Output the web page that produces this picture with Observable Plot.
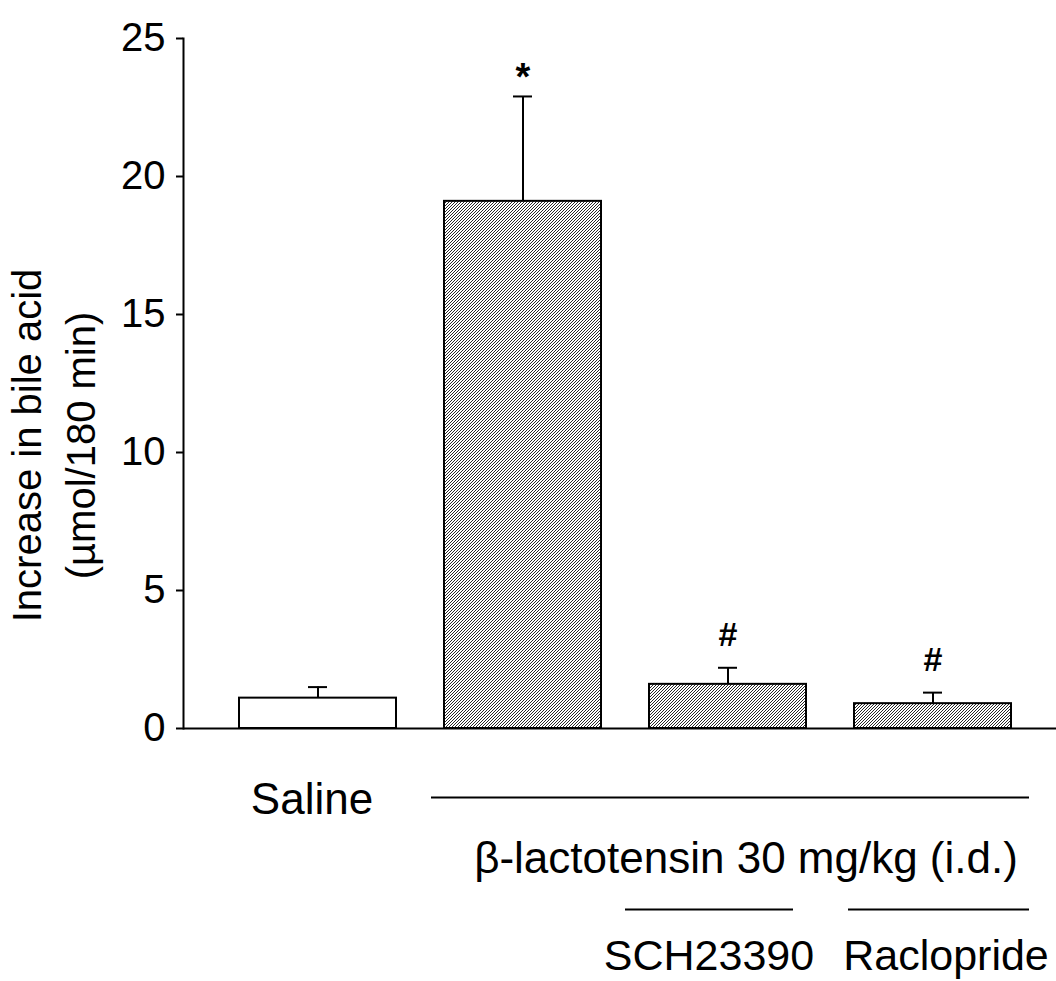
<!DOCTYPE html>
<html>
<head>
<meta charset="utf-8">
<script src="https://cdn.jsdelivr.net/npm/d3@7"></script>
<script src="https://cdn.jsdelivr.net/npm/@observablehq/plot@0.6"></script>
<style>
  html, body { margin: 0; padding: 0; background: white; }
</style>
</head>
<body>
<div id="chart"></div>
<script>
// ---- data ----
const categories = ["Saline", "β-lactotensin", "β-lactotensin + SCH23390", "β-lactotensin + Raclopride"];
const means = [1.1, 19.1, 1.6, 0.9];
const sems = [0.4, 3.8, 0.6, 0.4];
const hatched = [false, true, true, true];
const significance = ["", "*", "#", "#"];
const yTicks = [0, 5, 10, 15, 20, 25];
const yLabel = "Increase in bile acid\n(µmol/180 min)";
const groupLabels = ["Saline", "β-lactotensin 30 mg/kg (i.d.)", "SCH23390", "Raclopride"];

const data = categories.map((c, i) => ({
  c, mean: means[i], top: means[i] + sems[i], hatched: hatched[i], mark: significance[i]
}));

const defs = () => {
  const g = d3.create("svg:defs");
  const p = g.append("pattern")
    .attr("id", "hatch")
    .attr("width", 3).attr("height", 3)
    .attr("patternUnits", "userSpaceOnUse");
  p.append("rect").attr("width", 3).attr("height", 3).attr("fill", "white");
  p.append("path")
    .attr("d", "M-1,1 L1,-1 M0,3 L3,0 M2,4 L4,2")
    .attr("stroke", "black").attr("stroke-width", 0.85);
  return g.node();
};

const chart = Plot.plot({
  width: 1056,
  height: 981,
  marginLeft: 183,
  marginRight: 0,
  marginTop: 38,
  marginBottom: 253,
  style: { fontFamily: "'Liberation Sans', Arial, sans-serif", background: "white", color: "black" },
  x: { type: "band", domain: categories, insetLeft: 31, insetRight: 20, paddingInner: 0.234, paddingOuter: 0.117, axis: null },
  y: { domain: [0, 25], axis: null },
  marks: [
    defs,
    Plot.barY(data.filter(d => !d.hatched), { x: "c", y: "mean", fill: "white", stroke: "black", strokeWidth: 2 }),
    Plot.barY(data.filter(d => d.hatched), { x: "c", y: "mean", fill: "url(#hatch)", stroke: "black", strokeWidth: 2 }),
    Plot.ruleX(data, { x: "c", y1: "mean", y2: "top", strokeWidth: 2 }),
    Plot.tickY(data, { x: "c", y: "top", strokeWidth: 2, insetLeft: 69, insetRight: 69 }),
    Plot.text(data.filter(d => d.mark === "*"), { x: "c", y: "top", text: "mark", lineAnchor: "bottom", dy: -6, fontSize: 38, fontWeight: "bold" }),
    Plot.text(data.filter(d => d.mark === "#"), { x: "c", y: "top", text: "mark", lineAnchor: "bottom", dy: -22, fontSize: 34, fontWeight: "bold" }),
    Plot.axisY({ ticks: yTicks, tickSize: 7, tickPadding: 11, fontSize: 40, strokeWidth: 2, label: null }),
    Plot.frame({ anchor: "left", strokeWidth: 2 }),
    Plot.ruleY([0], { strokeWidth: 2 }),
    Plot.text([yLabel], { frameAnchor: "left", textAnchor: "middle", lineAnchor: "middle", rotate: -90, dx: -133, dy: 62, fontSize: 40, lineHeight: 1.35 }),
    // group annotation rows below the axis
    Plot.text([groupLabels[0]], { x: () => categories[0], text: d => d, frameAnchor: "bottom", lineAnchor: "middle", dy: 71, dx: -6, fontSize: 44 }),
    Plot.ruleY([0], { x1: () => categories[1], x2: () => categories[3], dy: 69, strokeWidth: 2, insetLeft: -13, insetRight: -18 }),
    Plot.text([groupLabels[1]], { x: () => categories[2], text: d => d, frameAnchor: "bottom", lineAnchor: "middle", dy: 130, dx: 18, fontSize: 44 }),
    Plot.ruleY([0], { x1: () => categories[2], x2: () => categories[2], dy: 181, strokeWidth: 2, insetLeft: -24, insetRight: 13 }),
    Plot.ruleY([0], { x1: () => categories[3], x2: () => categories[3], dy: 181, strokeWidth: 2, insetLeft: -6, insetRight: -18 }),
    Plot.text([groupLabels[2]], { x: () => categories[2], text: d => d, frameAnchor: "bottom", lineAnchor: "middle", dy: 228, dx: -19, fontSize: 43 }),
    Plot.text([groupLabels[3]], { x: () => categories[3], text: d => d, frameAnchor: "bottom", lineAnchor: "middle", dy: 228, dx: 13, fontSize: 43 })
  ]
});

document.getElementById("chart").append(chart);
</script>
</body>
</html>
